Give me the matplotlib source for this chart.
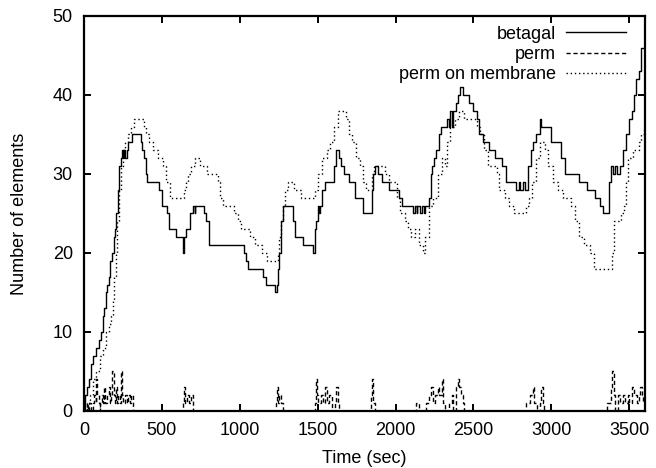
import matplotlib
matplotlib.use("Agg")
import matplotlib.pyplot as plt

plt.rcParams['font.family'] = ['Liberation Sans', 'DejaVu Sans']

# betagal (solid step curve)
betagal_t = [0, 8, 18, 30, 45, 60, 78, 95, 110, 120, 130, 140, 150, 160, 170, 180, 190, 200, 208, 216,
             226, 235, 245, 250, 255, 265, 275, 285, 310, 365, 375, 385, 395, 405, 480, 500, 530, 545,
             590, 635, 642, 655, 680, 700, 710, 715, 770, 785, 805, 960, 1030, 1040, 1055, 1150, 1170,
             1225, 1240, 1245, 1255, 1265, 1280, 1340, 1355, 1405, 1470, 1480, 1490, 1500, 1510, 1515,
             1530, 1545, 1580, 1605, 1615, 1640, 1650, 1670, 1700, 1740, 1790, 1850, 1858, 1870, 1890,
             1915, 1960, 2020, 2040, 2110, 2125, 2135, 2140, 2160, 2170, 2180, 2190, 2215, 2225, 2235,
             2245, 2260, 2280, 2290, 2330, 2340, 2350, 2360, 2370, 2385, 2400, 2415, 2430, 2470, 2500,
             2520, 2535, 2560, 2600, 2640, 2680, 2710, 2770, 2790, 2800, 2820, 2830, 2850, 2870, 2885,
             2900, 2925, 2935, 3000, 3060, 3090, 3180, 3230, 3280, 3310, 3330, 3370, 3385, 3395, 3410,
             3420, 3440, 3460, 3480, 3500, 3515, 3530, 3545, 3560, 3575, 3595]
betagal_v = [0, 2, 3, 4, 6, 7, 8, 9, 10, 12, 13, 15, 16, 17, 19, 20, 22, 23, 25, 28,
             31, 32, 33, 32, 33, 32, 33, 34, 35, 34, 33, 32, 30, 29, 28, 26, 25, 23,
             22, 20, 22, 23, 25, 26, 25, 26, 25, 24, 21, 21, 20, 19, 18, 17, 16,
             15, 16, 18, 20, 24, 26, 24, 22, 21, 20, 23, 24, 26, 25, 26,
             28, 29, 29, 31, 33, 32, 31, 30, 29, 27, 25, 28, 30, 31, 30,
             29, 28, 27, 26, 25, 26, 25, 26, 25, 26, 25, 26, 27, 30, 31,
             32, 33, 35, 36, 37, 36, 38, 36, 38, 39, 40, 41, 40, 39, 38,
             37, 35, 34, 33, 32, 31, 29, 28, 29, 28, 29, 28, 31, 33, 34,
             35, 37, 36, 34, 32, 30, 29, 28, 27, 26, 25, 29, 31, 30, 31,
             30, 31, 33, 35, 37, 38, 40, 42, 43, 46, 46]

# perm (dashed, near zero with bursts)
perm_t = [0, 20, 25, 35, 45, 55, 65, 75, 80, 85, 95, 100, 105, 115, 125, 130, 138, 150, 158, 165,
          175, 183, 190, 198, 205, 212, 220, 230, 235, 242, 250, 262, 275, 285, 295, 305, 312,
          635, 642, 650, 660, 672, 690, 700, 1230, 1237, 1245, 1255, 1265, 1280,
          1480, 1487, 1495, 1505, 1520, 1535, 1550, 1560, 1575, 1590, 1610, 1620, 1630, 1640,
          1840, 1847, 1855, 1865, 2130, 2150, 2195, 2215, 2230, 2240, 2255, 2270, 2280, 2295,
          2305, 2315, 2345, 2360, 2370, 2390, 2400, 2410, 2420, 2430, 2440,
          2840, 2860, 2880, 2890, 2905, 2925, 2935, 2945, 2955,
          3360, 3380, 3390, 3400, 3410, 3430, 3440, 3460, 3470, 3490, 3500, 3520, 3530, 3550,
          3560, 3570, 3580, 3590]
perm_v = [0, 1, 0, 1, 0, 1, 2, 1, 4, 2, 1, 0, 1, 2, 1, 3, 1, 2, 3, 1,
          2, 5, 2, 1, 3, 1, 2, 1, 5, 2, 1, 2, 1, 2, 1, 2, 0,
          1, 3, 1, 2, 1, 2, 0, 1, 3, 1, 2, 1, 0,
          1, 4, 2, 1, 2, 1, 3, 1, 2, 0, 1, 3, 1, 0,
          2, 4, 1, 0, 1, 0, 1, 2, 3, 1, 2, 3, 2, 4,
          1, 0, 1, 2, 0, 3, 4, 3, 2, 1, 0,
          1, 2, 3, 1, 0, 1, 3, 1, 0,
          1, 3, 5, 2, 0, 2, 1, 2, 1, 2, 1, 3, 2, 1,
          2, 3, 2, 1]

# perm on membrane (dotted step curve)
memb_t = [0, 20, 40, 60, 80, 100, 120, 140, 160, 175, 185, 195, 205, 215, 225, 235, 250, 265, 280, 300,
          320, 385, 400, 415, 445, 475, 505, 525, 550, 640, 655, 670, 690, 715, 745, 790, 860, 875,
          895, 960, 990, 1010, 1065, 1100, 1140, 1175, 1245, 1255, 1265, 1275, 1290, 1310, 1345,
          1395, 1480, 1500, 1530, 1560, 1580, 1605, 1630, 1680, 1700, 1720, 1745, 1770, 1790, 1810,
          1850, 1860, 1935, 1960, 2010, 2030, 2060, 2080, 2100, 2125, 2150, 2175, 2190, 2215, 2240,
          2275, 2300, 2315, 2330, 2350, 2380, 2410, 2440, 2520, 2545, 2570, 2595, 2650, 2665, 2700,
          2725, 2760, 2840, 2855, 2875, 2900, 2925, 2960, 2980, 3010, 3040, 3075, 3125, 3150, 3175,
          3210, 3250, 3275, 3390, 3405, 3450, 3465, 3480, 3495, 3525, 3560, 3575, 3595]
memb_v = [0, 1, 2, 4, 5, 7, 8, 10, 11, 12, 14, 17, 20, 24, 28, 31, 33, 34, 35, 36,
          37, 36, 35, 34, 33, 32, 31, 29, 27, 28, 29, 30, 31, 32, 31, 30, 29, 27,
          26, 25, 24, 23, 22, 21, 20, 19, 20, 22, 24, 26, 28, 29, 28,
          27, 28, 30, 32, 33, 34, 36, 38, 37, 35, 34, 32, 31, 29, 28,
          30, 31, 30, 29, 27, 25, 24, 23, 22, 23, 21, 20, 22, 26, 27,
          30, 32, 31, 34, 36, 37, 38, 37, 36, 35, 33, 31, 30, 28, 27,
          26, 25, 26, 27, 29, 32, 34, 33, 31, 29, 28, 27, 26, 24, 22,
          21, 20, 18, 20, 24, 25, 26, 29, 32, 33, 34, 35, 36]

xticks = [0, 500, 1000, 1500, 2000, 2500, 3000, 3500]
yticks = [0, 10, 20, 30, 40, 50]

fig = plt.figure(figsize=(6.56, 4.68), dpi=100)
ax = fig.add_axes([0.128, 0.122, 0.855, 0.844])

ax.plot(betagal_t, betagal_v, drawstyle='steps-post', color='black', lw=1.0,
        label='betagal')
ax.plot(perm_t, perm_v, drawstyle='steps-post', color='black', lw=1.0,
        linestyle=(0, (3, 2)), label='perm')
ax.plot(memb_t, memb_v, drawstyle='steps-post', color='black', lw=1.0,
        linestyle=(0, (1, 2)), label='perm on membrane')

ax.set_xlim(0, 3600)
ax.set_ylim(0, 50)
ax.set_xticks(xticks)
ax.set_yticks(yticks)
ax.tick_params(direction='in', top=True, right=True, length=5, width=1.4,
               labelsize=13)
ax.tick_params(axis='x', pad=8)
ax.tick_params(axis='y', pad=8)
for s in ax.spines.values():
    s.set_linewidth(1.6)

ax.set_xlabel('Time (sec)', fontsize=13, labelpad=8)
ax.set_ylabel('Number of elements', fontsize=13, labelpad=18)

ax.legend(loc='upper right', bbox_to_anchor=(0.966, 0.975), markerfirst=False,
          frameon=False, fontsize=13, handlelength=3.3, handletextpad=0.55,
          labelspacing=0.18, borderpad=0, borderaxespad=0)

fig.savefig('out.png', dpi=100)
